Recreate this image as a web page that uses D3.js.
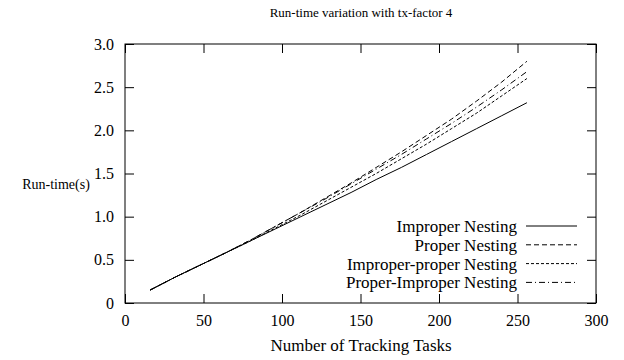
<!DOCTYPE html>
<html>
<head>
<meta charset="utf-8">
<script src="https://cdn.jsdelivr.net/npm/d3@7"></script>
<style>
  body { margin: 0; background: #fff; }
  text { font-family: "Liberation Serif", "Times New Roman", serif; fill: #000; }
</style>
</head>
<body>
<svg id="chart" width="624" height="360"></svg>
<script>
// tasks on the x axis
const tasks = [16, 32, 48, 64, 80, 96, 112, 128, 144, 160, 176, 192, 208, 224, 240, 256];

// run-time (s) per nesting strategy
const improper       = [0.15, 0.30, 0.44, 0.58, 0.72, 0.86, 1.00, 1.14, 1.28, 1.43, 1.57, 1.72, 1.87, 2.02, 2.17, 2.32];
const proper         = [0.15, 0.30, 0.44, 0.58, 0.73, 0.89, 1.05, 1.22, 1.39, 1.57, 1.75, 1.94, 2.13, 2.34, 2.56, 2.80];
const improperProper = [0.15, 0.30, 0.44, 0.58, 0.72, 0.87, 1.02, 1.18, 1.34, 1.50, 1.67, 1.84, 2.02, 2.20, 2.40, 2.60];
const properImproper = [0.15, 0.30, 0.44, 0.58, 0.73, 0.89, 1.05, 1.21, 1.38, 1.55, 1.72, 1.90, 2.08, 2.27, 2.47, 2.68];

const seriesNames = ["Improper Nesting", "Proper Nesting", "Improper-proper Nesting", "Proper-Improper Nesting"];
const xTicks = [0, 50, 100, 150, 200, 250, 300];
const yTicks = [0, 0.5, 1.0, 1.5, 2.0, 2.5, 3.0];

const series = [
  { name: seriesNames[0], values: improper, dash: null },
  { name: seriesNames[1], values: proper, dash: "5,3" },
  { name: seriesNames[2], values: improperProper, dash: "3,2" },
  { name: seriesNames[3], values: properImproper, dash: "6,3,1,3" }
];

const margin = { left: 125, right: 28, top: 44, bottom: 57 };
const width = 624, height = 360;
const serif = "Liberation Serif, Times New Roman, serif";

const svg = d3.select("#chart").attr("font-family", serif);

const x = d3.scaleLinear().domain([0, 300]).range([margin.left, width - margin.right]);
const y = d3.scaleLinear().domain([0, 3]).range([height - margin.bottom, margin.top]);

const tickLen = 9;
const fmtY = d => d === 0 ? "0" : d3.format(".1f")(d);

// frame
svg.append("rect")
  .attr("x", x(0)).attr("y", y(3))
  .attr("width", x(300) - x(0)).attr("height", y(0) - y(3))
  .attr("fill", "none").attr("stroke", "#000").attr("stroke-width", 1);

// axes, ticks drawn inward and mirrored like the original
const gx = svg.append("g").attr("transform", `translate(0,${y(0)})`)
  .call(d3.axisBottom(x).tickValues(xTicks).tickSize(-tickLen).tickPadding(12));
const gxTop = svg.append("g").attr("transform", `translate(0,${y(3)})`)
  .call(d3.axisTop(x).tickValues(xTicks).tickSize(-tickLen).tickFormat(""));
const gy = svg.append("g").attr("transform", `translate(${x(0)},0)`)
  .call(d3.axisLeft(y).tickValues(yTicks).tickSize(-tickLen).tickPadding(11).tickFormat(fmtY));
const gyRight = svg.append("g").attr("transform", `translate(${x(300)},0)`)
  .call(d3.axisRight(y).tickValues(yTicks).tickSize(-tickLen).tickFormat(""));

[gx, gxTop, gy, gyRight].forEach(g => {
  g.attr("font-family", serif);
  g.select(".domain").remove();
  g.selectAll(".tick line").attr("stroke", "#000");
  g.selectAll("text").attr("font-family", serif).attr("font-size", 16).attr("fill", "#000");
});

// lines
const line = d3.line()
  .x((d, i) => x(tasks[i]))
  .y(d => y(d));

svg.append("g").selectAll("path")
  .data(series)
  .join("path")
  .attr("d", d => line(d.values))
  .attr("fill", "none")
  .attr("stroke", "#000")
  .attr("stroke-width", 1)
  .attr("stroke-dasharray", d => d.dash);

// legend
const legend = svg.append("g");
const lx = 517, ly0 = 226, dy = 18.8;
series.forEach((s, i) => {
  const yy = ly0 + i * dy;
  legend.append("text")
    .attr("x", lx).attr("y", yy)
    .attr("dy", "0.35em")
    .attr("text-anchor", "end")
    .attr("font-family", serif)
    .attr("font-size", 17)
    .text(s.name);
  legend.append("line")
    .attr("x1", 526).attr("x2", 577)
    .attr("y1", yy).attr("y2", yy)
    .attr("stroke", "#000")
    .attr("stroke-dasharray", s.dash);
});

// titles
svg.append("text")
  .attr("x", 361).attr("y", 17)
  .attr("text-anchor", "middle").attr("font-size", 13)
  .attr("font-family", serif)
  .text("Run-time variation with tx-factor 4");

svg.append("text")
  .attr("x", 361).attr("y", 351)
  .attr("text-anchor", "middle").attr("font-size", 17)
  .attr("font-family", serif)
  .text("Number of Tracking Tasks");

svg.append("text")
  .attr("x", 56).attr("y", 189)
  .attr("text-anchor", "middle").attr("font-size", 14)
  .attr("font-family", serif)
  .text("Run-time(s)");
</script>
</body>
</html>
